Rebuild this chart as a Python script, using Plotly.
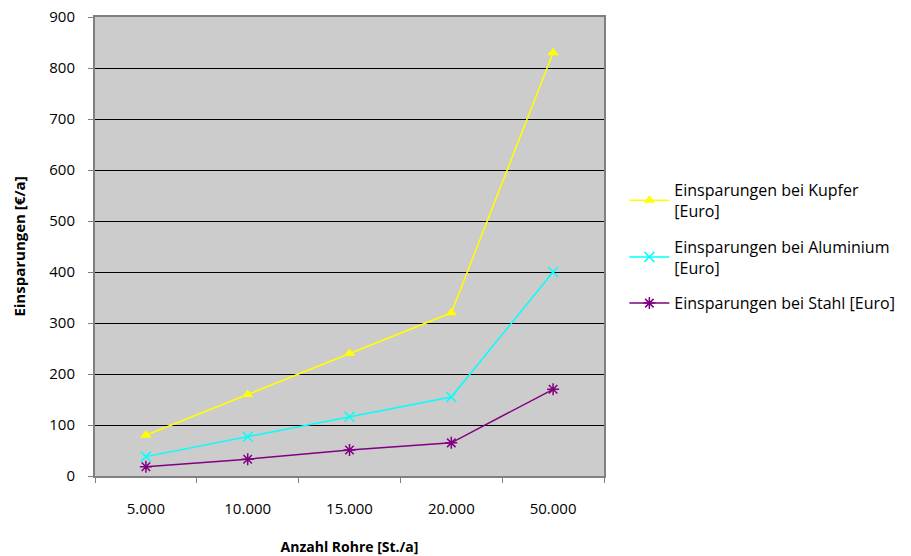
import plotly.graph_objects as go

categories = ["5.000", "10.000", "15.000", "20.000", "50.000"]
kupfer = [80, 160, 240, 320, 830]
aluminium = [38, 77, 116, 155, 400]
stahl = [18, 33, 51, 65, 170]
y_ticks = [0, 100, 200, 300, 400, 500, 600, 700, 800, 900]

FONT = "Open Sans"

fig = go.Figure()
fig.add_trace(go.Scatter(
    x=categories, y=kupfer, mode="lines+markers",
    name="Einsparungen bei Kupfer<br>[Euro]", legendgroup="kupfer",
    line=dict(color="#FFFF00", width=1.5),
    marker=dict(symbol="triangle-up", size=10, color="#FFFF00"),
))
fig.add_trace(go.Scatter(
    x=categories, y=aluminium, mode="lines+markers",
    name="Einsparungen bei Aluminium<br>[Euro]", legendgroup="aluminium",
    line=dict(color="#00FFFF", width=1.5),
    marker=dict(symbol="x-thin-open", size=10, color="#00FFFF",
                line=dict(color="#00FFFF", width=1.5)),
))
fig.add_trace(go.Scatter(
    x=categories, y=stahl, mode="lines+markers",
    name="Einsparungen bei Stahl [Euro]", legendgroup="stahl",
    line=dict(color="#800080", width=1.5),
    marker=dict(symbol="asterisk-open", size=10, color="#800080",
                line=dict(color="#800080", width=1.5)),
))

fig.update_layout(
    width=911, height=556,
    margin=dict(l=95, r=307, t=17, b=80, autoexpand=False),
    paper_bgcolor="white",
    plot_bgcolor="#CCCCCC",
    font=dict(family=FONT, size=15, color="black"),
    showlegend=True,
    legend=dict(
        x=1.04, y=0.5, xanchor="left", yanchor="middle",
        font=dict(family=FONT, size=16, color="black"),
        bgcolor="rgba(0,0,0,0)", itemwidth=40,
        traceorder="grouped", tracegroupgap=12,
    ),
    xaxis=dict(
        type="category", categoryorder="array", categoryarray=categories,
        tickson="boundaries", ticks="outside", ticklen=5, tickcolor="#808080",
        ticklabelstandoff=18, automargin=False,
        showgrid=False, showline=True, linecolor="#808080", linewidth=2,
        mirror=True, range=[-0.5, 4.5],
        title=dict(text="<b>Anzahl Rohre [St./a]</b>", standoff=30,
                   font=dict(family=FONT, size=14)),
        tickfont=dict(family=FONT, size=15),
    ),
    yaxis=dict(
        range=[0, 900], tickvals=y_ticks, ticks="outside", ticklen=5,
        tickcolor="#808080", ticklabelstandoff=10, automargin=False,
        showgrid=True, gridcolor="black", gridwidth=1,
        showline=True, linecolor="#808080", linewidth=2, mirror=True,
        zeroline=False,
        title=dict(text="<b>Einsparungen [€/a]</b>", standoff=20,
                   font=dict(family=FONT, size=15)),
        tickfont=dict(family=FONT, size=15),
    ),
)

fig.write_html("out.html")
